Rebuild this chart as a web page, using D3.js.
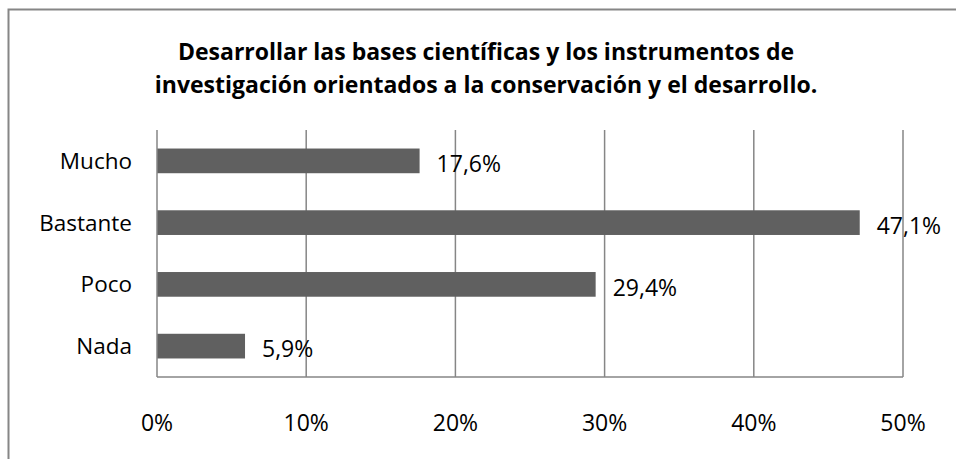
<!DOCTYPE html>
<html>
<head>
<meta charset="utf-8">
<script src="https://cdn.jsdelivr.net/npm/d3@7"></script>
<style>
  body { margin: 0; background: #fff; }
  text { font-family: "Open Sans", sans-serif; fill: #000; }
</style>
</head>
<body>
<div id="canvas"></div>
<script>
// data
var categories = ["Mucho", "Bastante", "Poco", "Nada"];
var values = [17.6, 47.1, 29.4, 5.9];
var valueLabels = ["17,6%", "47,1%", "29,4%", "5,9%"];
var tickValues = [0, 10, 20, 30, 40, 50];
var titleLines = ["Desarrollar las bases científicas y los instrumentos de",
                  "investigación orientados a la conservación y el desarrollo."];

var canvasWidth = 956, canvasHeight = 459;
var plotLeft = 157, plotRight = 903, plotTop = 130, plotBottom = 377;
var lineColor = "#868686", barColor = "#606060";

var svg = d3.select("#canvas").append("svg")
    .attr("width", canvasWidth)
    .attr("height", canvasHeight);

// outer frame (runs off the right and bottom)
svg.append("rect")
    .attr("x", 8.5).attr("y", 9.5)
    .attr("width", 1000).attr("height", 500)
    .attr("fill", "none")
    .attr("stroke", lineColor)
    .attr("stroke-width", 2);

// title
svg.append("text")
    .attr("x", 486).attr("y", 60)
    .attr("text-anchor", "middle")
    .attr("font-size", 23)
    .attr("font-weight", "bold")
    .selectAll("tspan")
    .data(titleLines)
    .join("tspan")
    .attr("x", 486)
    .attr("dy", function(d, i) { return i == 0 ? 0 : 33; })
    .text(function(d) { return d; });

var x = d3.scaleLinear().domain([0, 50]).range([plotLeft, plotRight]);
var y = d3.scaleBand().domain(categories).range([plotTop, plotBottom])
    .paddingInner(0.6).paddingOuter(0.3);

// gridlines
svg.append("g")
    .selectAll("line")
    .data(tickValues.slice(1))
    .join("line")
    .attr("x1", function(d) { return x(d); })
    .attr("x2", function(d) { return x(d); })
    .attr("y1", plotTop)
    .attr("y2", plotBottom)
    .attr("stroke", lineColor)
    .attr("stroke-width", 1.5);

// bars
svg.append("g")
    .selectAll("rect")
    .data(values)
    .join("rect")
    .attr("x", x(0))
    .attr("y", function(d, i) { return y(categories[i]); })
    .attr("width", function(d) { return x(d) - x(0); })
    .attr("height", y.bandwidth())
    .attr("fill", barColor);

// axes lines
svg.append("line")
    .attr("x1", plotLeft).attr("x2", plotLeft)
    .attr("y1", plotTop).attr("y2", plotBottom)
    .attr("stroke", lineColor).attr("stroke-width", 1.5);
svg.append("line")
    .attr("x1", plotLeft).attr("x2", plotRight)
    .attr("y1", plotBottom).attr("y2", plotBottom)
    .attr("stroke", lineColor).attr("stroke-width", 1.5);

// value labels
svg.append("g")
    .selectAll("text")
    .data(values)
    .join("text")
    .attr("x", function(d) { return x(d) + 17; })
    .attr("y", function(d, i) { return y(categories[i]) + y.bandwidth() - 1; })
    .attr("font-size", 23)
    .text(function(d, i) { return valueLabels[i]; });

// category labels
svg.append("g")
    .selectAll("text")
    .data(categories)
    .join("text")
    .attr("x", 132)
    .attr("y", function(d) { return y(d) + y.bandwidth() / 2; })
    .attr("dy", "0.35em")
    .attr("text-anchor", "end")
    .attr("font-size", 22.5)
    .text(function(d) { return d; });

// x tick labels
svg.append("g")
    .selectAll("text")
    .data(tickValues)
    .join("text")
    .attr("x", function(d) { return x(d); })
    .attr("y", 431)
    .attr("text-anchor", "middle")
    .attr("font-size", 23)
    .text(function(d) { return d + "%"; });
</script>
</body>
</html>
